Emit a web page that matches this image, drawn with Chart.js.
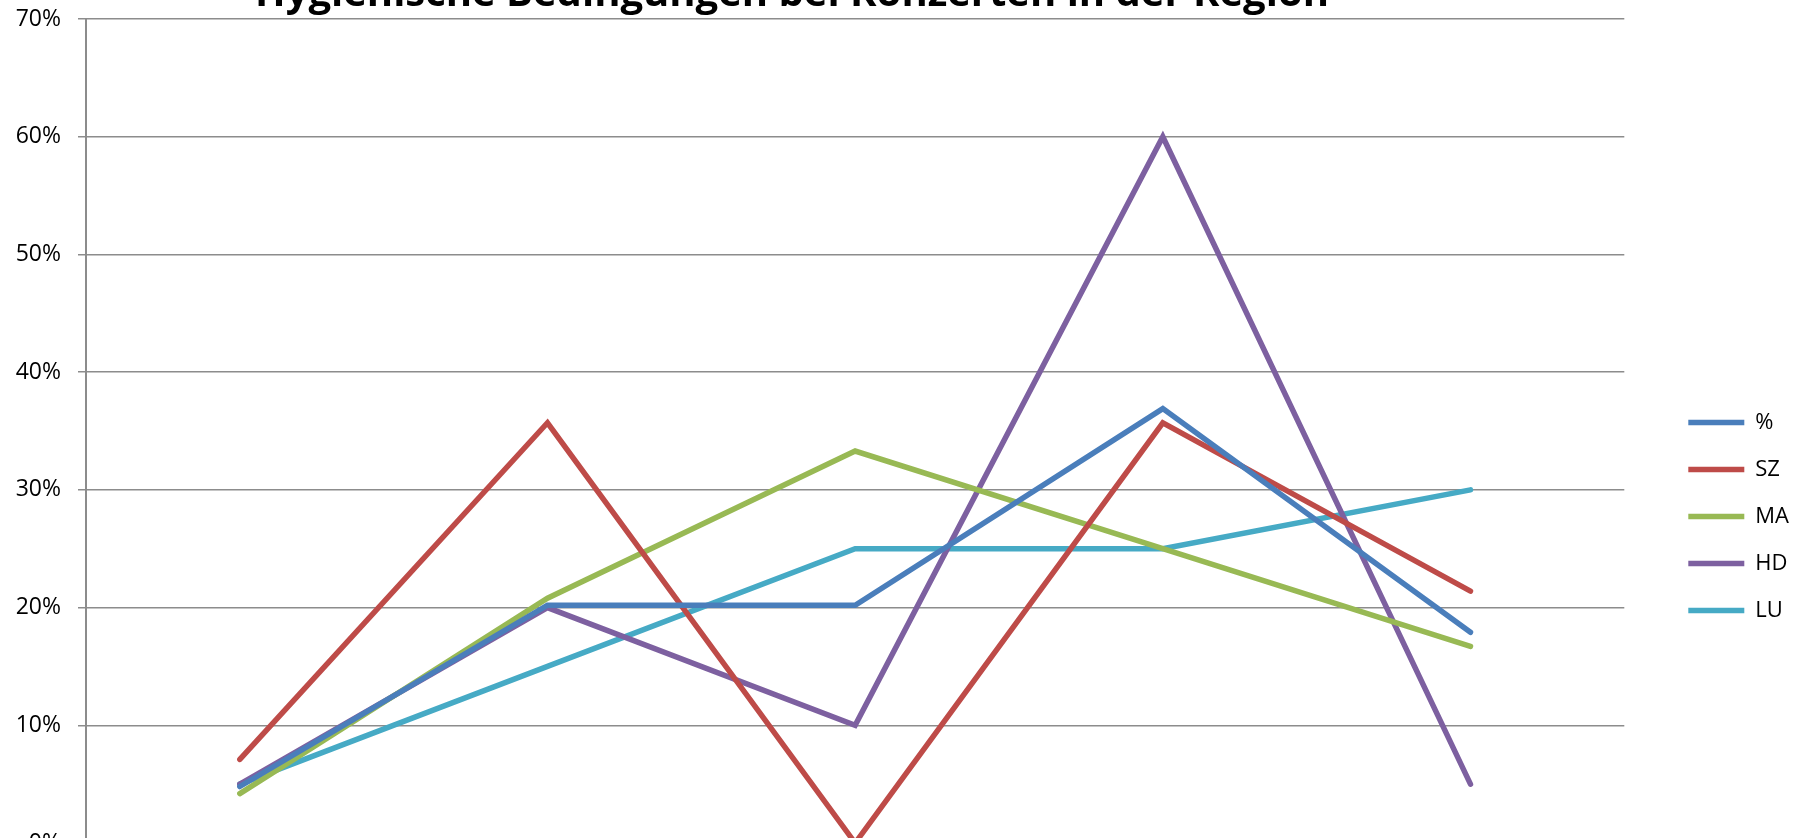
<!DOCTYPE html>
<html>
<head>
<meta charset="utf-8">
<script src="https://cdn.jsdelivr.net/npm/chart.js@4"></script>
<style>
  html, body { margin: 0; padding: 0; width: 1802px; height: 838px; overflow: hidden; background: #fff; }
  #wrap { position: absolute; left: 0; top: -29px; width: 1802px; height: 1091px; }
</style>
</head>
<body>
<div id="wrap"><canvas id="chart"></canvas></div>
<script>
const titleText = 'Hygienische Bedingungen bei Konzerten in der Region';
const categories = ['sehr gut', 'gut', 'befriedigend', 'ausreichend', 'mangelhaft'];
const yTicks = [0, 0.1, 0.2, 0.3, 0.4, 0.5, 0.6, 0.7];

// values (share of answers)
const seriesAll = [0.048, 0.202, 0.202, 0.369, 0.179];
const seriesSZ = [0.071, 0.357, 0.0, 0.357, 0.214];
const seriesMA = [0.042, 0.208, 0.333, 0.25, 0.167];
const seriesHD = [0.05, 0.2, 0.1, 0.6, 0.05];
const seriesLU = [0.05, 0.15, 0.25, 0.25, 0.3];

const gridGray = '#8c8c8c';

function line(label, data, color) {
    return {
        label: label,
        data: data,
        borderColor: color,
        backgroundColor: color,
        borderWidth: 5.5,
        borderCapStyle: 'round',
        borderJoinStyle: 'miter',
        pointRadius: 0,
        tension: 0,
        fill: false
    };
}

// Excel centres the title over its own frame, not the canvas
const titleShift = {
    id: 'titleShift',
    afterLayout(chart) {
        chart.titleBlock.left = 0;
        chart.titleBlock.right = 1584;
    }
};

new Chart(document.getElementById('chart'), {
    type: 'line',
    data: {
        labels: categories,
        datasets: [
            line('%', seriesAll, '#4a7ebb'),
            line('SZ', seriesSZ, '#be4b48'),
            line('MA', seriesMA, '#98b954'),
            line('HD', seriesHD, '#7d60a0'),
            line('LU', seriesLU, '#46aac5')
        ]
    },
    options: {
        responsive: true,
        maintainAspectRatio: false,
        animation: false,
        layout: { padding: { left: 0, right: 3, top: 0, bottom: 0 } },
        plugins: {
            title: {
                display: true,
                text: titleText,
                color: '#000',
                font: { family: 'Open Sans', size: 40, weight: 'bold' },
                padding: { top: 0, bottom: 0 }
            },
            legend: {
                position: 'right',
                labels: {
                    color: '#000',
                    font: { family: 'Open Sans', size: 22 },
                    usePointStyle: true,
                    pointStyle: 'line',
                    pointStyleWidth: 56,
                    padding: 25
                }
            },
            tooltip: { enabled: false }
        },
        scales: {
            x: {
                offset: true,
                grid: { display: false },
                border: { display: true, color: gridGray, width: 2 },
                ticks: { color: '#000', font: { family: 'Open Sans', size: 22 } },
                afterFit(scale) { scale.height = 219; }
            },
            y: {
                min: 0,
                max: 0.7,
                afterBuildTicks(scale) { scale.ticks = yTicks.map(v => ({ value: v })); },
                grid: { color: gridGray, lineWidth: 1.5, tickLength: 8, tickColor: gridGray },
                border: { display: true, color: gridGray, width: 2 },
                ticks: {
                    color: '#000',
                    padding: 17,
                    font: { family: 'Open Sans', size: 23 },
                    callback: v => Math.round(v * 100) + '%'
                },
                afterFit(scale) { scale.width = 86; }
            },
            gap: {
                position: 'right',
                display: true,
                grid: { display: false },
                border: { display: false },
                ticks: { display: false },
                afterFit(scale) { scale.width = 39; }
            }
        }
    },
    plugins: [titleShift]
});
</script>
</body>
</html>
